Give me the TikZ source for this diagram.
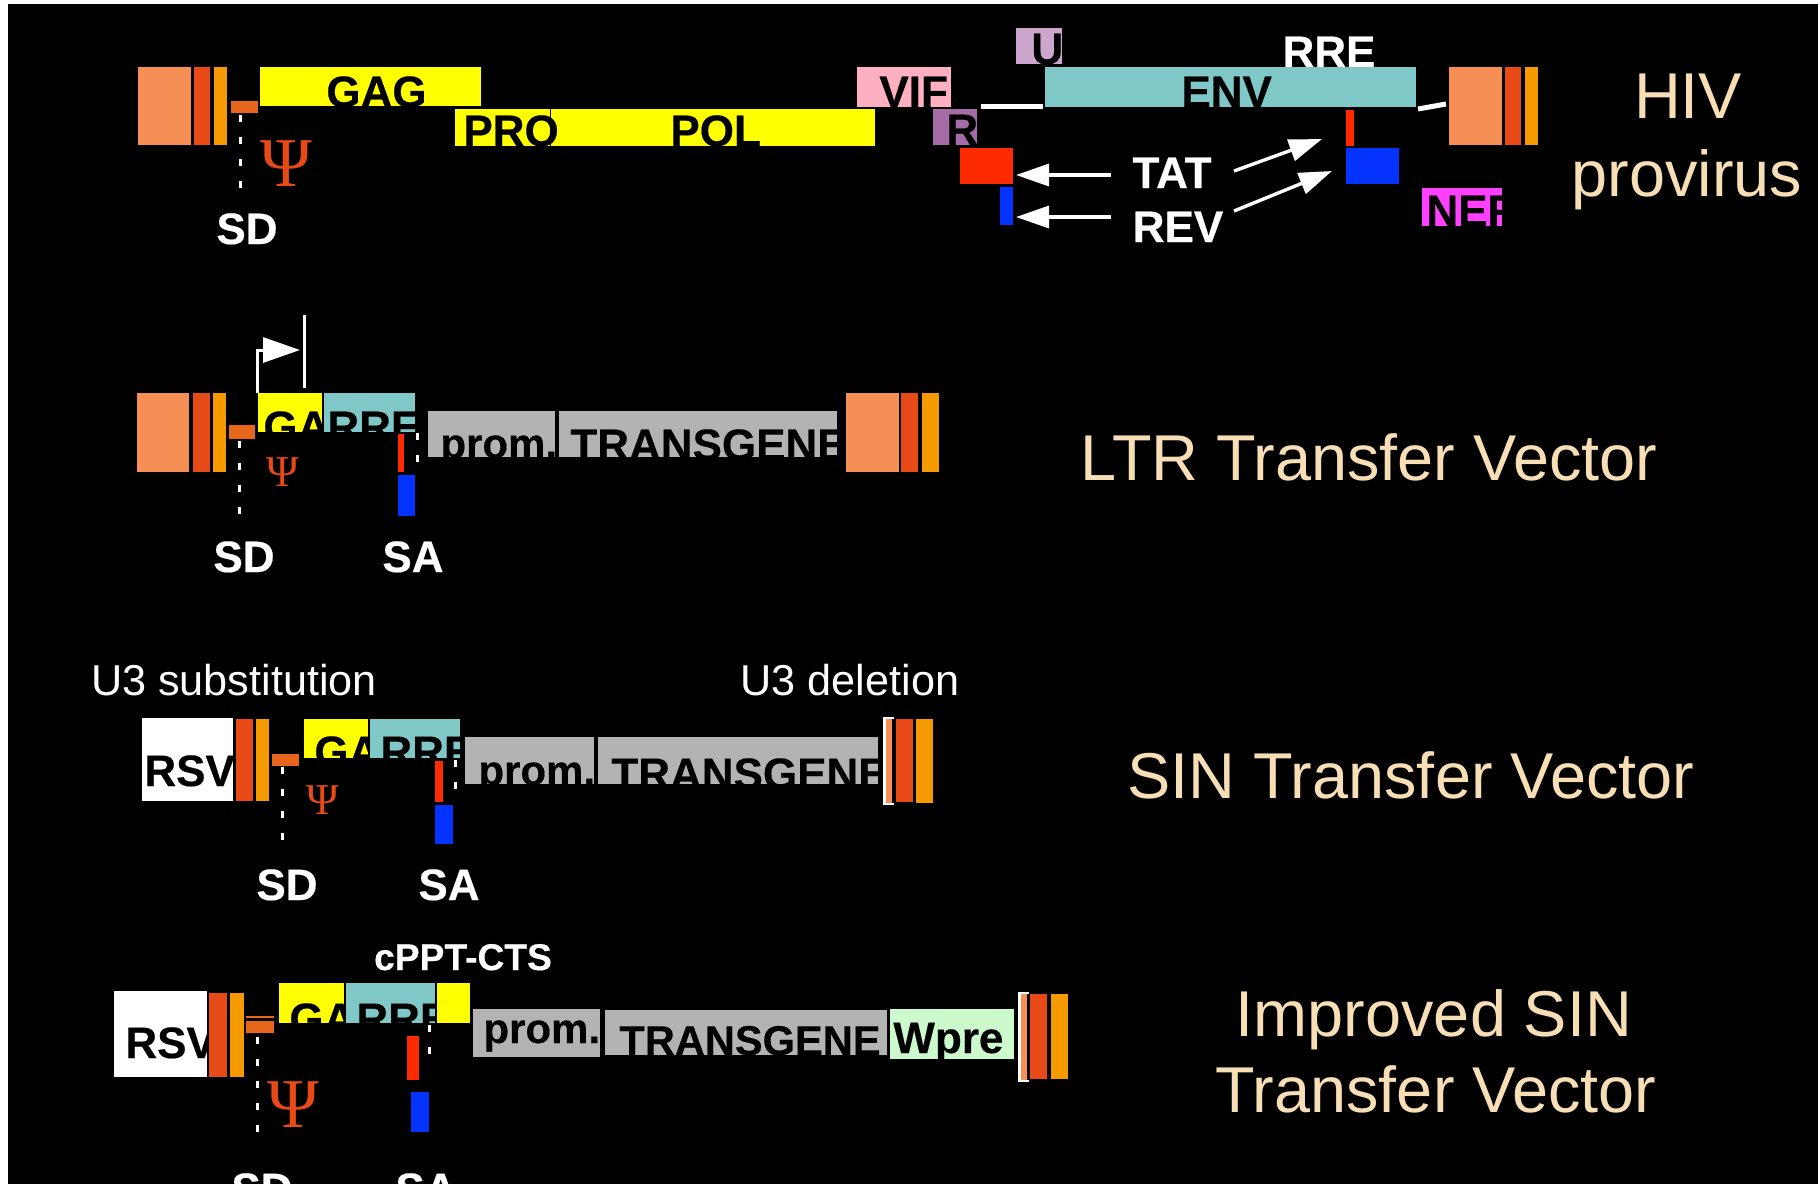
\documentclass[tikz,border=0pt]{standalone}
\usepackage{fontspec}
\setmainfont{Liberation Sans}[BoldFeatures={FakeBold=0.4}]
\newfontfamily\psifont{Liberation Serif}
\usetikzlibrary{arrows.meta,positioning}
\definecolor{ltrpale}{HTML}{F58F55}
\definecolor{ltrred}{HTML}{E84A17}
\definecolor{ltrorange}{HTML}{F59B00}
\definecolor{sdbar}{HTML}{E8661C}
\definecolor{gagyellow}{HTML}{FFFF00}
\definecolor{envteal}{HTML}{80C8C8}
\definecolor{vifpink}{HTML}{FFB0C0}
\definecolor{vprpurple}{HTML}{A66CA8}
\definecolor{vpupurple}{HTML}{CCA6CC}
\definecolor{tatred}{HTML}{FF2A00}
\definecolor{revblue}{HTML}{0433FF}
\definecolor{nefpink}{HTML}{FF40FF}
\definecolor{promgray}{HTML}{B3B3B3}
\definecolor{wpregreen}{HTML}{CCFACC}
\definecolor{titlebeige}{HTML}{F8DEB5}

\begin{document}
\begin{tikzpicture}[
  x=0.5pt, y=-0.5pt,
  seglabel/.style={inner sep=0pt, anchor=base west, text=black, font=\fontsize{22}{22}\selectfont\bfseries},
  seglabelb/.style={seglabel, font=\fontsize{20.8}{21}\selectfont\bfseries},
  promlabel/.style={seglabel, font=\fontsize{21}{21}\selectfont\bfseries},
  sitelabel/.style={inner sep=0pt, anchor=base, text=white, font=\fontsize{22}{22}\selectfont\bfseries},
  notelabel/.style={inner sep=0pt, anchor=base, text=white, font=\fontsize{21.6}{21.6}\selectfont},
  titlelabel/.style={inner sep=0pt, anchor=base, text=titlebeige, font=\fontsize{32.4}{32.4}\selectfont},
  psilabel/.style={inner sep=0pt, anchor=base, text=ltrred, font=\psifont\fontsize{35}{35}\selectfont},
  psismall/.style={psilabel, font=\psifont\fontsize{22}{22}\selectfont},
  sitedash/.style={draw=white, line width=1.5pt, dash pattern=on 3.5pt off 7.5pt},
  whitearrow/.style={draw=white, line width=1.7pt, -{Triangle[length=16.5pt,width=11pt]}}
]
\useasboundingbox (0,0) rectangle (1818,1184);
\clip (0,0) rectangle (1818,1184);
\fill[white] (0,0) rectangle (1818,1184);
\fill[black] (8,4) rectangle (1818,1184);

% HIV provirus
\fill[ltrpale] (138,67) rectangle (191,145);
\fill[ltrred] (194,67) rectangle (210,145);
\fill[ltrorange] (214,67) rectangle (227,145);
\fill[sdbar] (231,101) rectangle (258,113);
\fill[gagyellow] (260,67) rectangle (481,106);
\node[seglabel] (gagOne) at (326,107) {GAG};
\fill[gagyellow] (455,109) rectangle (875,146);
\draw[black, line width=0.5pt] (550,109) -- (550,146);
\node[seglabel] (proOne) at (463,146) {PRO};
\node[seglabel] (polOne) at (670,146) {POL};
\fill[vifpink] (857,67) rectangle (951,107);
\node[seglabel] (vifOne) at (879,107) {VIF};
\fill[vprpurple] (933,109) rectangle (977,145);
\node[seglabel] (vprOne) at (946,145) {R};
\fill[vpupurple] (1016,28) rectangle (1062,64);
\node[seglabel] (vpuOne) at (1031,64) {U};
\fill[tatred] (960,148) rectangle (1013,184);
\fill[revblue] (1000,187) rectangle (1013,225);
\fill[white] (981,104) rectangle (1043,109);
\node[sitelabel] (rreOne) at (1329,67) {RRE};
\fill[envteal] (1045,67) rectangle (1416,107);
\node[seglabel] (envOne) at (1181,107) {ENV};
\fill[tatred] (1346,110) rectangle (1354,146);
\fill[revblue] (1346,148) rectangle (1399,184);
\fill[nefpink] (1422,188) rectangle (1502,226);
\node[seglabel] (nefOne) at (1426,226) {NEF};
\coordinate (gapA) at (1418,109);
\coordinate (gapB) at (1446,104);
\draw[white, line width=2.5pt] (gapA) -- (gapB);
\fill[ltrpale] (1449,67) rectangle (1502,145);
\fill[ltrred] (1505,67) rectangle (1521,145);
\fill[ltrorange] (1525,67) rectangle (1538,145);
\node[psilabel] (psiOne) at (286,186) {Ψ};
\coordinate (sdOneA) at (240,115);
\coordinate (sdOneB) at (240,194);
\draw[sitedash] (sdOneA) -- (sdOneB);
\node[sitelabel] (sdOne) at (247,244) {SD};
\node[sitelabel] (tatLabel) at (1172,188) {TAT};
\node[sitelabel] (revLabel) at (1178,242) {REV};
\coordinate (tatA) at (1111,175);
\coordinate (tatB) at (1016,175);
\coordinate (revA) at (1111,217);
\coordinate (revB) at (1016,217);
\coordinate (tatC) at (1234,171);
\coordinate (tatD) at (1322,139);
\coordinate (revC) at (1234,211);
\coordinate (revD) at (1332,171);
\draw[whitearrow] (tatA) -- (tatB);
\draw[whitearrow] (revA) -- (revB);
\draw[whitearrow] (tatC) -- (tatD);
\draw[whitearrow] (revC) -- (revD);
\node[titlelabel] (hivTitle) at (1688,118) {HIV};
\node[titlelabel] (hivTitleB) at (1687,196) {provirus};

% LTR transfer vector
\fill[ltrpale] (137,393) rectangle (189,472);
\fill[ltrred] (193,393) rectangle (210,472);
\fill[ltrorange] (213,393) rectangle (226,472);
\fill[sdbar] (229,425) rectangle (255,439);
\fill[gagyellow] (258,393) rectangle (322,432);
\node[seglabel] (gagTwo) at (263,442) {GAG};
\fill[envteal] (324,393) rectangle (415,432);
\node[seglabel] (rreTwo) at (327,442) {RRE};
\fill[promgray] (428,411) rectangle (555,457);
\node[promlabel] (promTwo) at (440,458) {prom.};
\fill[promgray] (559,411) rectangle (837,457);
\node[seglabel] (transTwo) at (570,460) {TRANSGENE};
\fill[ltrpale] (846,393) rectangle (899,472);
\fill[ltrred] (901,393) rectangle (918,472);
\fill[ltrorange] (922,393) rectangle (939,472);
\fill[tatred] (398,434) rectangle (404,472);
\fill[revblue] (398,475) rectangle (415,516);
\node[psismall] (psiTwo) at (283,486) {Ψ};
\coordinate (sdTwoA) at (239,441);
\coordinate (sdTwoB) at (239,516);
\coordinate (saTwoA) at (417,433);
\coordinate (saTwoB) at (417,465);
\draw[sitedash] (sdTwoA) -- (sdTwoB);
\draw[sitedash] (saTwoA) -- (saTwoB);
\coordinate (startA) at (257,393);
\coordinate (startB) at (257,350);
\coordinate (startC) at (300,350);
\coordinate (tickA) at (304,315);
\coordinate (tickB) at (304,388);
\draw[draw=white, line width=1.5pt, -{Triangle[length=18.5pt,width=12.5pt]}] (startA) -- (startB) -- (startC);
\draw[white, line width=1.5pt] (tickA) -- (tickB);
\node[sitelabel] (sdTwo) at (244,572) {SD};
\node[sitelabel] (saTwo) at (413,572) {SA};
\node[titlelabel] (ltrTitle) at (1369,480) {LTR Transfer Vector};

% SIN transfer vector
\node[notelabel] (substNote) at (234,695) {U3 substitution};
\node[notelabel] (delNote) at (850,695) {U3 deletion};
\fill[white] (142,718) rectangle (233,801);
\node[seglabel] (rsvThree) at (144,786) {RSV};
\fill[ltrred] (236,719) rectangle (253,801);
\fill[ltrorange] (256,719) rectangle (269,801);
\fill[sdbar] (272,754) rectangle (299,766);
\fill[gagyellow] (304,719) rectangle (368,758);
\node[seglabel] (gagThree) at (314,767) {GAG};
\fill[envteal] (370,719) rectangle (460,758);
\node[seglabel] (rreThree) at (380,767) {RRE};
\fill[promgray] (465,737) rectangle (594,784);
\node[promlabel] (promThree) at (478,785) {prom.};
\fill[promgray] (598,737) rectangle (878,784);
\node[seglabel] (transThree) at (611,789) {TRANSGENE};
\fill[white] (883,717) rectangle (894,805);
\fill[ltrpale] (886,719) rectangle (892,803);
\fill[black] (892,719) rectangle (896,803);
\fill[ltrred] (896,719) rectangle (913,802);
\fill[ltrorange] (916,719) rectangle (933,803);
\fill[tatred] (435,761) rectangle (443,802);
\fill[revblue] (435,805) rectangle (453,844);
\node[psismall] (psiThree) at (323,814) {Ψ};
\coordinate (sdThreeA) at (282,767);
\coordinate (sdThreeB) at (282,844);
\coordinate (saThreeA) at (455,760);
\coordinate (saThreeB) at (455,792);
\draw[sitedash] (sdThreeA) -- (sdThreeB);
\draw[sitedash] (saThreeA) -- (saThreeB);
\node[sitelabel] (sdThree) at (287,900) {SD};
\node[sitelabel] (saThree) at (449,900) {SA};
\node[titlelabel] (sinTitle) at (1411,798) {SIN Transfer Vector};

% improved SIN transfer vector
\node[sitelabel, font=\fontsize{18.6}{18.6}\selectfont\bfseries] (cpptNote) at (463,970) {cPPT-CTS};
\fill[white] (114,991) rectangle (207,1077);
\node[seglabel] (rsvFour) at (125,1058) {RSV};
\fill[ltrred] (209,993) rectangle (227,1077);
\fill[ltrorange] (230,993) rectangle (244,1077);
\fill[sdbar] (246,1016) rectangle (274,1018);
\fill[sdbar] (246,1021) rectangle (274,1033);
\fill[gagyellow] (279,983) rectangle (344,1023);
\node[seglabel] (gagFour) at (289,1034) {GAG};
\fill[envteal] (346,983) rectangle (435,1023);
\node[seglabel] (rreFour) at (356,1034) {RRE};
\fill[gagyellow] (437,983) rectangle (470,1023);
\fill[promgray] (473,1009) rectangle (600,1057);
\node[promlabel] (promFour) at (483,1043) {prom.};
\fill[promgray] (605,1010) rectangle (887,1055);
\node[seglabelb] (transFour) at (619,1055) {TRANSGENE};
\fill[wpregreen] (890,1009) rectangle (1014,1059);
\node[seglabel] (wpreFour) at (893,1053) {Wpre};
\fill[white] (1018,992) rectangle (1029,1082);
\fill[ltrpale] (1021,994) rectangle (1027,1080);
\fill[black] (1027,994) rectangle (1030,1080);
\fill[ltrred] (1030,994) rectangle (1047,1079);
\fill[ltrorange] (1051,994) rectangle (1068,1079);
\fill[tatred] (407,1036) rectangle (419,1080);
\fill[revblue] (411,1092) rectangle (429,1132);
\node[psilabel] (psiFour) at (293,1127) {Ψ};
\coordinate (sdFourA) at (257,1037);
\coordinate (sdFourB) at (257,1132);
\coordinate (saFourA) at (429,1025);
\coordinate (saFourB) at (429,1065);
\draw[sitedash] (sdFourA) -- (sdFourB);
\draw[sitedash] (saFourA) -- (saFourB);
\node[sitelabel] (sdFour) at (262,1204) {SD};
\node[sitelabel] (saFour) at (426,1204) {SA};
\node[titlelabel] (impTitle) at (1434,1036) {Improved SIN};
\node[titlelabel] (impTitleB) at (1436,1112) {Transfer Vector};
\end{tikzpicture}
\end{document}
